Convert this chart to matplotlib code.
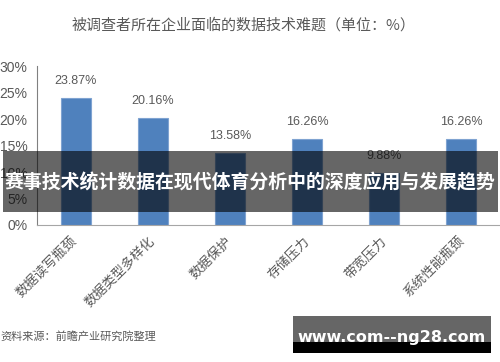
import matplotlib
matplotlib.use("Agg")
import matplotlib.pyplot as plt
from matplotlib.patches import Rectangle

plt.rcParams['font.family'] = ['Noto Sans CJK SC', 'DejaVu Sans']

title = "被调查者所在企业面临的数据技术难题（单位：%）"
categories = ["数据读写瓶颈", "数据类型多样化", "数据保护", "存储压力", "带宽压力", "系统性能瓶颈"]
values = [23.87, 20.16, 13.58, 16.26, 9.88, 16.26]
yticks = [0, 5, 10, 15, 20, 25, 30]
source = "资料来源：前瞻产业研究院整理"
banner = "赛事技术统计数据在现代体育分析中的深度应用与发展趋势"
watermark = "www.com--ng28.com"

gray = "#595959"
W, H = 500, 362

fig = plt.figure(figsize=(5.0, 3.62), dpi=100)
ax = fig.add_axes([37 / W, 1 - 225 / H, 1 - 37 / W, (225 - 66) / H])

x = range(len(categories))
ax.bar(x, values, width=0.39, color="#4f81bd", edgecolor="#7fa3d1", linewidth=0.8)

for i, v in enumerate(values):
    ax.annotate(f"{v:.2f}%", (i, v), xytext=(0, 8), textcoords="offset points",
                ha="center", va="bottom", fontsize=9, color=gray,
                family=["Liberation Sans", "DejaVu Sans"])

ax.set_xlim(-0.5, 5.5)
ax.set_ylim(0, 30)
ax.set_yticks(yticks)
ax.set_yticklabels([f"{t}%" for t in yticks], fontsize=10, color=gray,
                   family=["Liberation Sans", "DejaVu Sans"])
ax.tick_params(axis="y", length=0, pad=7)
ax.set_xticks(list(x))
ax.set_xticklabels(categories, rotation=45, ha="right", va="center",
                   rotation_mode="anchor", fontsize=9.5, color=gray)
ax.tick_params(axis="x", length=0, pad=10)

for s in ["top", "right"]:
    ax.spines[s].set_visible(False)
ax.spines["left"].set_color("#808080")
ax.spines["bottom"].set_color("#a6a6a6")
ax.spines["left"].set_linewidth(0.8)
ax.spines["bottom"].set_linewidth(0.8)

fig.text(243 / W, 1 - 25 / H, title, ha="center", va="center", fontsize=10.8, color=gray)
fig.text(0, 1 - 336 / H, source, ha="left", va="center", fontsize=8, color=gray)

# overlay banner
fig.patches.append(Rectangle((3 / W, 1 - 212 / H), 495 / W, 61 / H, transform=fig.transFigure,
                             facecolor="black", alpha=0.6, edgecolor="none", zorder=5))
fig.text(0.5, 1 - 183 / H, banner, ha="center", va="center", fontsize=13.6, color="white",
         fontweight="bold", zorder=6)

# watermark
fig.patches.append(Rectangle((293 / W, 1 - 342 / H), 198 / W, 26 / H, transform=fig.transFigure,
                             facecolor="black", alpha=0.6, edgecolor="none", zorder=5))
fig.patches.append(Rectangle((293 / W, 1 - 353 / H), 198 / W, 11 / H, transform=fig.transFigure,
                             facecolor="black", edgecolor="none", zorder=5))
fig.text(392 / W, 1 - 342 / H, watermark, ha="center", va="baseline", fontsize=11.5,
         color="white", fontweight="bold", family=["DejaVu Sans"], zorder=6)

fig.savefig("out.png", dpi=100)
